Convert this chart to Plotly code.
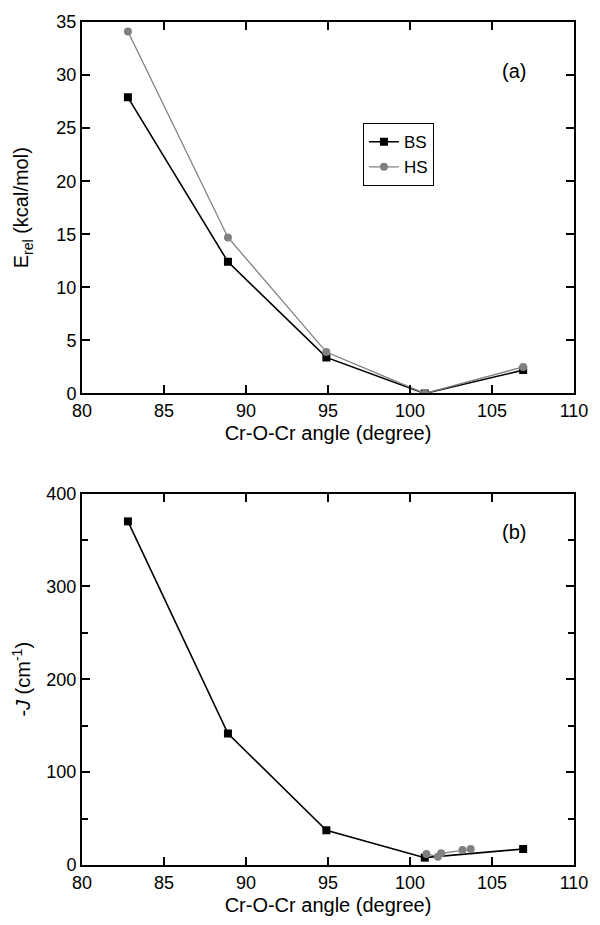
import plotly.graph_objects as go
from plotly.subplots import make_subplots

# Panel (a): relative energies
angle_a = [82.8, 88.9, 94.9, 100.9, 106.9]
bs_energy = [27.9, 12.4, 3.4, 0.0, 2.2]
hs_energy = [34.1, 14.7, 3.9, 0.0, 2.5]

# Panel (b): -J
angle_bs_j = [82.8, 88.9, 94.9, 100.9, 106.9]
bs_j = [370, 141.6, 37.4, 7.9, 17.2]
angle_hs_j = [101.0, 101.7, 101.9, 103.2, 103.7]
hs_j = [11.9, 9.0, 12.6, 16.2, 17.2]

x_ticks = [80, 85, 90, 95, 100, 105, 110]
ya_ticks = [0, 5, 10, 15, 20, 25, 30, 35]
yb_ticks = [0, 100, 200, 300, 400]

BLACK = "#000000"
GREY = "#808080"
FONT = "Liberation Sans, Arial, sans-serif"

fig = make_subplots(rows=2, cols=1, vertical_spacing=0.1187)

fig.add_trace(go.Scatter(x=angle_a, y=bs_energy, name="BS", mode="lines+markers",
                         line=dict(color=BLACK, width=1.6),
                         marker=dict(symbol="square", size=8, color=BLACK)), row=1, col=1)
fig.add_trace(go.Scatter(x=angle_a, y=hs_energy, name="HS", mode="lines+markers",
                         line=dict(color=GREY, width=1.3),
                         marker=dict(symbol="circle", size=8, color=GREY)), row=1, col=1)

fig.add_trace(go.Scatter(x=angle_bs_j, y=bs_j, name="BS", mode="lines+markers",
                         showlegend=False,
                         line=dict(color=BLACK, width=1.6),
                         marker=dict(symbol="square", size=8, color=BLACK)), row=2, col=1)
fig.add_trace(go.Scatter(x=angle_hs_j, y=hs_j, name="HS", mode="lines+markers",
                         showlegend=False,
                         line=dict(color=GREY, width=1.3),
                         marker=dict(symbol="circle", size=8, color=GREY)), row=2, col=1)

axis_common = dict(showline=True, linecolor=BLACK, linewidth=2, mirror="ticks",
                   ticks="inside", ticklen=8, tickwidth=1.5, tickcolor=BLACK,
                   showgrid=False, zeroline=False,
                   tickfont=dict(family=FONT, size=18, color=BLACK))

TITLE_FONT = dict(family=FONT, size=20, color=BLACK)

fig.update_xaxes(**axis_common, range=[80, 110], tickvals=x_ticks,
                 title=dict(text="Cr-O-Cr angle (degree)", font=TITLE_FONT, standoff=6))
fig.update_yaxes(**axis_common)
fig.update_yaxes(range=[0, 35], tickvals=ya_ticks, row=1, col=1,
                 title=dict(text="E<sub>rel</sub> (kcal/mol)", font=TITLE_FONT, standoff=22))
fig.update_yaxes(range=[0, 400], tickvals=yb_ticks, row=2, col=1,
                 minor=dict(ticks="inside", dtick=50, ticklen=6, tickwidth=1.5, tickcolor=BLACK),
                 title=dict(text="-<i>J</i> (cm<sup>-1</sup>)", font=TITLE_FONT, standoff=10))

fig.update_layout(
    width=600, height=925,
    margin=dict(l=82, r=17, t=22, b=60),
    paper_bgcolor="white", plot_bgcolor="white",
    font=dict(family=FONT, size=18, color=BLACK),
    legend=dict(x=0.571, y=0.88, xanchor="left", yanchor="top",
                bordercolor=BLACK, borderwidth=1, bgcolor="white",
                font=dict(family=FONT, size=17, color=BLACK),
                itemwidth=30, tracegroupgap=0),
    annotations=[
        dict(text="(a)", x=0.906, y=0.957, xref="paper", yref="paper",
             showarrow=False, font=dict(family=FONT, size=20, color=BLACK)),
        dict(text="(b)", x=0.906, y=0.395, xref="paper", yref="paper",
             showarrow=False, font=dict(family=FONT, size=20, color=BLACK)),
    ],
)

fig.write_html("out.html", config={"displayModeBar": False},
               post_script="document.body.style.margin='0';")
